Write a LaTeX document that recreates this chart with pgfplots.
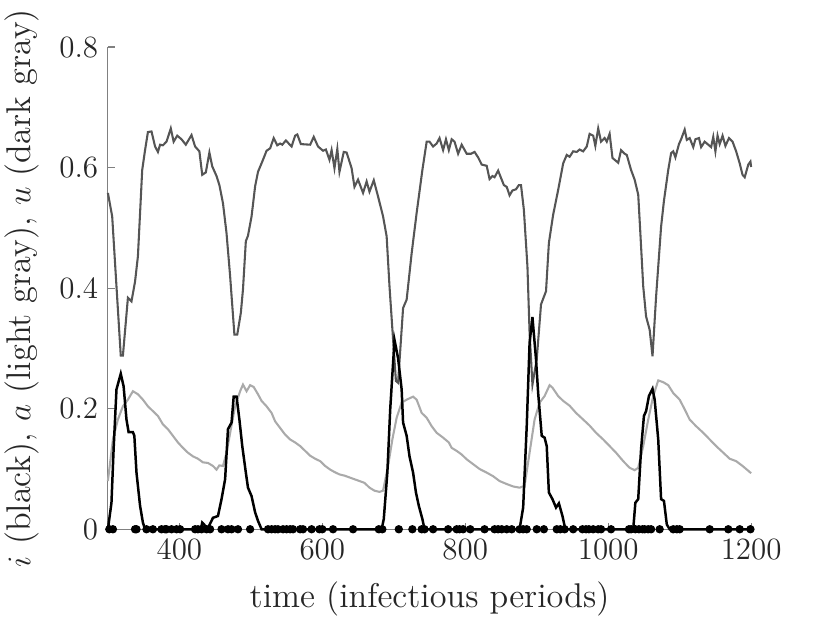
\documentclass[border=0pt]{standalone}
\usepackage{pgfplots}
\pgfplotsset{compat=1.18}
\definecolor{ugray}{RGB}{85,85,85}
\definecolor{agray}{RGB}{170,170,170}
\definecolor{axgray}{RGB}{128,128,128}
\definecolor{txt}{RGB}{38,38,38}
\begin{document}
\begin{tikzpicture}
\path[use as bounding box] (0,0) rectangle (300pt,225pt);
\begin{axis}[
  at={(39pt,33.7pt)}, anchor=south west,
  scale only axis, width=232.5pt, height=174.3pt,
  xmin=300, xmax=1200, ymin=0, ymax=0.8,
  xtick={400,600,800,1000,1200},
  ytick={0,0.2,0.4,0.6,0.8},
  /pgf/number format/assume math mode=true,
  /pgf/number format/1000 sep={},
  yticklabel style={/pgf/number format/fixed,/pgf/number format/precision=1},
  axis x line*=bottom, axis y line*=left,
  axis line style={axgray, line width=0.4pt},
  tick align=inside, major tick length=2.4pt,
  tick style={axgray, line width=0.4pt},
  ticklabel style={txt, font=\fontsize{11.2}{13}\selectfont},
  label style={txt, font=\fontsize{12.4}{15}\selectfont},
  xlabel={time (infectious periods)},
  ylabel={$i$ (black), $a$ (light gray), $u$ (dark gray)},
  xlabel style={at={(axis description cs:0.5,-0.145)}, anchor=center},
  ylabel style={at={(axis description cs:-0.134,0.5)}, anchor=center},
  clip=false,
]
% a (light gray)
\addplot[agray, line width=0.75pt] coordinates {
(300,0.080)(307,0.149)(314,0.182)(321,0.204)(328,0.215)(335,0.229)(342,0.224)(349,0.215)(356,0.204)(363,0.196)(370,0.188)(377,0.174)(384,0.166)(391,0.155)(398,0.144)(405,0.135)(412,0.127)(419,0.121)(426,0.117)(433,0.111)(440,0.110)(447,0.105)(452,0.099)(456,0.106)(461,0.105)(466,0.127)(472,0.166)(478,0.204)(485,0.229)(489,0.240)(494,0.229)(499,0.239)(504,0.236)(510,0.224)(515,0.213)(522,0.204)(529,0.193)(534,0.179)(541,0.168)(548,0.157)(555,0.149)(562,0.144)(569,0.138)(576,0.130)(583,0.122)(590,0.117)(597,0.113)(604,0.105)(611,0.099)(617,0.095)(624,0.091)(631,0.089)(638,0.086)(645,0.083)(652,0.080)(659,0.077)(666,0.069)(673,0.064)(680,0.062)(685,0.064)(692,0.105)(698,0.149)(704,0.185)(711,0.210)(718,0.215)(727,0.220)(732,0.215)(739,0.193)(746,0.185)(753,0.171)(760,0.160)(769,0.152)(777,0.144)(781,0.135)(788,0.130)(795,0.124)(802,0.116)(811,0.108)(820,0.100)(830,0.094)(839,0.088)(848,0.080)(858,0.075)(867,0.071)(876,0.069)(883,0.072)(890,0.127)(897,0.182)(904,0.210)(911,0.221)(918,0.239)(922,0.235)(930,0.221)(937,0.213)(946,0.205)(955,0.193)(965,0.182)(974,0.172)(983,0.160)(993,0.149)(1002,0.138)(1011,0.127)(1021,0.113)(1030,0.102)(1037,0.098)(1042,0.102)(1049,0.138)(1056,0.182)(1063,0.221)(1070,0.247)(1077,0.244)(1084,0.239)(1091,0.226)(1100,0.215)(1107,0.199)(1114,0.182)(1123,0.171)(1133,0.160)(1142,0.149)(1151,0.138)(1161,0.127)(1170,0.117)(1179,0.113)(1188,0.105)(1200,0.093)
};
% u (dark gray)
\addplot[ugray, line width=0.75pt] coordinates {
(300,0.558)(306,0.519)(312,0.403)(318,0.288)(321,0.288)(328,0.384)(333,0.378)(338,0.411)(342,0.453)(348,0.596)(352,0.629)(356,0.659)(361,0.660)(366,0.635)(370,0.626)(373,0.638)(377,0.637)(382,0.643)(388,0.665)(392,0.643)(397,0.653)(403,0.647)(409,0.638)(417,0.654)(422,0.635)(428,0.627)(432,0.588)(437,0.592)(442,0.625)(446,0.602)(452,0.586)(456,0.571)(461,0.541)(466,0.491)(471,0.420)(477,0.323)(481,0.323)(486,0.359)(489,0.398)(493,0.478)(496,0.487)(501,0.519)(506,0.569)(510,0.593)(516,0.610)(522,0.628)(527,0.632)(532,0.649)(537,0.637)(541,0.640)(544,0.638)(549,0.645)(557,0.635)(562,0.653)(565,0.655)(570,0.639)(583,0.638)(588,0.651)(594,0.635)(601,0.628)(605,0.630)(610,0.613)(613,0.629)(617,0.599)(621,0.631)(624,0.593)(630,0.626)(634,0.625)(641,0.599)(645,0.568)(650,0.580)(657,0.558)(662,0.577)(666,0.560)(672,0.579)(678,0.552)(685,0.519)(690,0.486)(694,0.403)(699,0.315)(703,0.246)(706,0.243)(713,0.367)(718,0.381)(725,0.458)(732,0.525)(740,0.596)(746,0.643)(750,0.643)(755,0.635)(760,0.640)(764,0.649)(769,0.629)(773,0.647)(777,0.629)(781,0.647)(785,0.643)(790,0.623)(795,0.638)(802,0.623)(808,0.623)(813,0.626)(818,0.617)(823,0.605)(830,0.603)(834,0.581)(838,0.586)(841,0.584)(846,0.595)(851,0.580)(854,0.571)(858,0.568)(862,0.554)(866,0.562)(871,0.564)(875,0.571)(878,0.571)(882,0.530)(887,0.436)(890,0.326)(894,0.240)(900,0.282)(906,0.373)(913,0.395)(917,0.475)(923,0.522)(930,0.563)(937,0.607)(942,0.621)(946,0.618)(951,0.627)(956,0.626)(960,0.630)(965,0.627)(970,0.635)(974,0.656)(979,0.653)(982,0.636)(986,0.665)(990,0.643)(995,0.649)(998,0.643)(1002,0.656)(1006,0.616)(1014,0.608)(1018,0.629)(1023,0.623)(1026,0.621)(1032,0.596)(1037,0.580)(1042,0.555)(1045,0.491)(1049,0.403)(1053,0.353)(1058,0.331)(1062,0.287)(1067,0.386)(1074,0.502)(1078,0.545)(1084,0.596)(1088,0.624)(1091,0.627)(1094,0.617)(1099,0.639)(1102,0.647)(1107,0.663)(1110,0.646)(1114,0.649)(1119,0.634)(1122,0.647)(1127,0.649)(1130,0.634)(1135,0.643)(1139,0.639)(1144,0.634)(1147,0.651)(1150,0.627)(1153,0.653)(1156,0.639)(1160,0.653)(1164,0.636)(1169,0.649)(1174,0.643)(1179,0.627)(1184,0.607)(1188,0.588)(1191,0.584)(1196,0.605)(1199,0.610)(1200,0.601)
};
% i (black)
\addplot[black, line width=0.9pt] coordinates {
(300,0)(305,0.044)(308,0.133)(312,0.232)(318,0.258)(322,0.237)(326,0.182)(329,0.161)(335,0.161)(337,0.155)(340,0.094)(345,0.039)(349,0.011)(352,0)(430,0)(432,0.011)(436,0.006)(440,0.002)(447,0.019)(454,0.022)(459,0.050)(464,0.083)(468,0.166)(473,0.177)(476,0.220)(480,0.220)(484,0.182)(488,0.138)(493,0.094)(496,0.069)(501,0.055)(506,0.028)(510,0.014)(515,0)(683,0)(686,0.017)(691,0.094)(695,0.199)(701,0.314)(706,0.284)(711,0.232)(713,0.177)(718,0.155)(722,0.121)(727,0.094)(731,0.061)(735,0.039)(740,0.017)(743,0)(876,0)(881,0.036)(886,0.171)(890,0.309)(894,0.352)(899,0.282)(902,0.226)(907,0.155)(911,0.152)(914,0.138)(917,0.061)(922,0.050)(927,0.036)(931,0.043)(936,0.022)(940,0)(1035,0)(1038,0.044)(1042,0.050)(1046,0.133)(1050,0.188)(1053,0.196)(1057,0.221)(1062,0.233)(1065,0.215)(1070,0.149)(1074,0.050)(1078,0.047)(1082,0.008)(1086,0)(1200,0)
};
% extinction marks
\addplot[only marks, mark=*, mark size=1.3pt, black] coordinates {
(302,0)(307,0)(338,0)(340,0)(354,0)(363,0)(375,0)(380,0)(382,0)(389,0)(396,0)(401,0)(422,0)(426,0)(431,0)(438,0)(443,0)(459,0)(468,0)(473,0)(482,0)(499,0)(524,0)(529,0)(534,0)(538,0)(545,0)(550,0)(555,0)(559,0)(569,0)(573,0)(585,0)(596,0)(600,0)(615,0)(643,0)(679,0)(684,0)(707,0)(726,0)(739,0)(743,0)(755,0)(776,0)(788,0)(792,0)(797,0)(807,0)(827,0)(841,0)(846,0)(851,0)(858,0)(865,0)(876,0)(881,0)(886,0)(900,0)(910,0)(928,0)(933,0)(939,0)(951,0)(964,0)(969,0)(973,0)(979,0)(986,0)(990,0)(1004,0)(1029,0)(1032,0)(1038,0)(1043,0)(1048,0)(1051,0)(1056,0)(1060,0)(1072,0)(1091,0)(1096,0)(1100,0)(1142,0)(1168,0)(1184,0)(1199,0)
};
\end{axis}
\end{tikzpicture}
\end{document}
